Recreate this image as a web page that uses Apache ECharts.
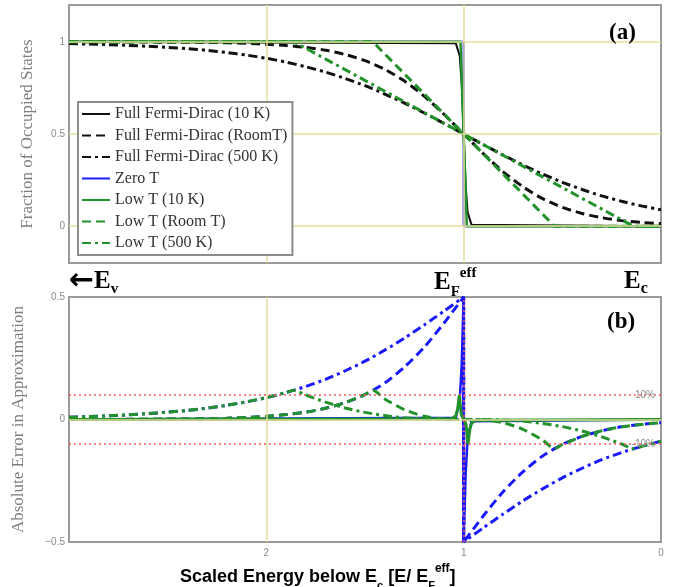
<!DOCTYPE html>
<html><head><meta charset="utf-8">
<script src="https://cdn.jsdelivr.net/npm/echarts@6/dist/echarts.min.js"></script>
<style>html,body{margin:0;padding:0;background:#fff}#c{width:689px;height:587px}</style>
</head><body><div id="c"></div>
<script>
// ---- shared energy grid (scaled energy below Ec) ----
const energy = [3.0,2.9,2.8,2.7,2.6,2.5,2.4,2.3,2.2,2.1,2.0,1.9,1.8,1.7,1.6,1.5,1.4,1.3,1.2,1.1,1.0,0.9,0.8,0.7,0.6,0.5,0.4,0.3,0.2,0.1,0.0];
const energySplit = [3.0,2.9,2.8,2.7,2.6,2.5,2.4,2.3,2.2,2.1,2.0,1.9,1.8,1.7,1.6,1.5,1.4,1.3,1.2,1.1,1.0,1.0,0.9,0.8,0.7,0.6,0.5,0.4,0.3,0.2,0.1,0.0];

// ---- (a) fraction of occupied states ----
const fd10K_x = [3.0,1.04,1.02,1.01,1.0,0.99,0.98,0.96,0.0];
const fd10K_y = [1,0.993,0.924,0.777,0.5,0.223,0.076,0.007,0];
const fdRoomT = [1.000,1.000,1.000,0.999,0.999,0.998,0.998,0.997,0.995,0.992,0.987,0.980,0.970,0.955,0.931,0.898,0.851,0.787,0.705,0.607,0.500,0.393,0.295,0.214,0.149,0.102,0.069,0.046,0.030,0.020,0.013];
const fd500K = [0.991,0.988,0.985,0.981,0.976,0.970,0.963,0.954,0.942,0.928,0.911,0.890,0.865,0.836,0.801,0.762,0.717,0.668,0.614,0.558,0.500,0.442,0.386,0.332,0.283,0.238,0.199,0.164,0.135,0.110,0.089];
const zeroT_x = [3,1,1,0];
const zeroT_y = [1,1,0,0];
const lowT10K_x = [3,1.016,0.984,0];
const lowT10K_y = [1,1,0,0];
const lowTRoomT_x = [3,1.46,0.54,0];
const lowTRoomT_y = [1,1,0,0];
const lowT500K_x = [3,1.86,0.14,0];
const lowT500K_y = [1,1,0,0];

// ---- (b) absolute error in approximation ----
const errZeroT10K_x = [3,1.04,1.02,1.01,1.0,1.0,0.99,0.98,0.96,0];
const errZeroT10K_y = [0,0.007,0.076,0.223,0.5,-0.5,-0.223,-0.076,-0.007,0];
const errZeroTRoomT = [0,0,0,0.001,0.001,0.002,0.002,0.003,0.005,0.008,0.013,0.020,0.030,0.046,0.069,0.102,0.149,0.214,0.295,0.393,0.5,-0.5,-0.393,-0.295,-0.214,-0.149,-0.102,-0.069,-0.046,-0.030,-0.020,-0.013];
const errZeroT500K = [0.009,0.012,0.015,0.019,0.024,0.030,0.037,0.046,0.058,0.072,0.089,0.110,0.135,0.164,0.199,0.238,0.283,0.332,0.386,0.442,0.5,-0.5,-0.442,-0.386,-0.332,-0.283,-0.238,-0.199,-0.164,-0.135,-0.110,-0.089];
const errLowT10K_x = [3,1.06,1.04,1.03,1.022,1.012,1.0,0.988,0.978,0.97,0.96,0.94,0];
const errLowT10K_y = [0,0.003,0.015,0.045,0.1,0.02,0,-0.02,-0.1,-0.045,-0.015,-0.003,0];
const errLowTRoomT_x = [3.0,2.8,2.6,2.4,2.2,2.0,1.9,1.8,1.7,1.6,1.5,1.46,1.4,1.3,1.2,1.1,1.0,0.9,0.8,0.7,0.6,0.54,0.5,0.4,0.3,0.2,0.1,0.0];
const errLowTRoomT_y = [0,0,0.001,0.002,0.005,0.013,0.020,0.030,0.046,0.069,0.102,0.119,0.084,0.040,0.013,0.002,0,-0.002,-0.013,-0.040,-0.084,-0.119,-0.102,-0.069,-0.046,-0.030,-0.020,-0.013];
const errLowT500K_x = [3.0,2.8,2.6,2.4,2.2,2.0,1.9,1.86,1.8,1.7,1.6,1.5,1.4,1.3,1.2,1.1,1.0,0.9,0.8,0.7,0.6,0.5,0.4,0.3,0.2,0.14,0.1,0.0];
const errLowT500K_y = [0.009,0.015,0.024,0.037,0.058,0.089,0.110,0.119,0.100,0.071,0.047,0.029,0.016,0.007,0.002,0.000,0,0.000,-0.002,-0.007,-0.016,-0.029,-0.047,-0.071,-0.100,-0.119,-0.110,-0.089];

const legendNames = ['Full Fermi-Dirac (10 K)','Full Fermi-Dirac (RoomT)','Full Fermi-Dirac (500 K)','Zero T','Low T (10 K)','Low T (Room T)','Low T (500 K)'];
const xTickLabels = ['0','1','2'];
const topYTicks = [0,0.5,1];

const pairs = (xs, ys) => xs.map((x,i) => [x, ys[i]]);
const BLACK = '#111111', BLUE = '#1a1aff', GREEN = '#22922a';
const YEL = '#e6dc9c', RED = '#ff5a5a', GRAY = '#8a8a8a';
const DASH = [9,5], DASHDOT = [9,4,3,4];

function line(name, gi, data, color, width, type, z, smooth) {
  return { name, type:'line', xAxisIndex:gi, yAxisIndex:gi, data, symbol:'none',
    smooth: smooth ? 0.25 : false, z, silent:true, animation:false,
    lineStyle:{ color, width, type, cap:'butt' }, itemStyle:{ color } };
}

const series = [
  { type:'line', xAxisIndex:0, yAxisIndex:0, data:[], z:1, silent:true, animation:false,
    markLine:{ silent:true, symbol:'none', animation:false, label:{show:false},
      lineStyle:{ color:YEL, width:1.5, type:'solid' },
      data:[{yAxis:0},{yAxis:0.5},{yAxis:1},{xAxis:1},{xAxis:2}] } },
  { type:'line', xAxisIndex:1, yAxisIndex:1, data:[], z:1, silent:true, animation:false,
    markLine:{ silent:true, symbol:'none', animation:false, label:{show:false},
      lineStyle:{ color:YEL, width:1.5, type:'solid' },
      data:[{yAxis:0},{xAxis:2},
        {xAxis:1, lineStyle:{color:RED, width:1.5, type:[2,3]}},
        {yAxis:0.1, lineStyle:{color:RED, width:1.5, type:[2,3]},
          label:{show:true, position:'insideStart', formatter:'10%', color:GRAY, fontSize:10, distance:6}},
        {yAxis:-0.1, lineStyle:{color:RED, width:1.5, type:[2,3]},
          label:{show:true, position:'insideStart', formatter:'-10%', color:GRAY, fontSize:10, distance:6}}] } },
  // (a)
  line(legendNames[0], 0, pairs(fd10K_x, fd10K_y), BLACK, 2, 'solid', 2, false),
  line(legendNames[1], 0, pairs(energy, fdRoomT), BLACK, 3, DASH, 2, true),
  line(legendNames[2], 0, pairs(energy, fd500K), BLACK, 3, DASHDOT, 2, true),
  line(legendNames[3], 0, pairs(zeroT_x, zeroT_y), BLUE, 2, 'solid', 3, false),
  line(legendNames[4], 0, pairs(lowT10K_x, lowT10K_y), GREEN, 2.5, 'solid', 4, false),
  line(legendNames[5], 0, pairs(lowTRoomT_x, lowTRoomT_y), GREEN, 3, DASH, 4, false),
  line(legendNames[6], 0, pairs(lowT500K_x, lowT500K_y), GREEN, 3, DASHDOT, 4, false),
  // (b)
  line('err Zero T 10K', 1, pairs(errZeroT10K_x, errZeroT10K_y), BLUE, 2.5, 'solid', 3, false),
  line('err Zero T RoomT', 1, pairs(energySplit, errZeroTRoomT), BLUE, 3, DASH, 3, true),
  line('err Zero T 500K', 1, pairs(energySplit, errZeroT500K), BLUE, 3, DASHDOT, 3, true),
  line('err Low T 10K', 1, pairs(errLowT10K_x, errLowT10K_y), GREEN, 3, 'solid', 4, false),
  line('err Low T RoomT', 1, pairs(errLowTRoomT_x, errLowTRoomT_y), GREEN, 3, DASH, 4, true),
  line('err Low T 500K', 1, pairs(errLowT500K_x, errLowT500K_y), GREEN, 3, DASHDOT, 4, true)
];

const near = (a,b) => Math.abs(a-b) < 1e-6;
const chart = echarts.init(document.getElementById('c'), null, {renderer:'canvas'});
chart.setOption({
  animation:false,
  backgroundColor:'#ffffff',
  grid:[
    {left:69, top:5, width:592, height:258, show:true, borderColor:'#9a9a9a', borderWidth:2, backgroundColor:'transparent'},
    {left:69, top:297, width:592, height:245, show:true, borderColor:'#9a9a9a', borderWidth:2, backgroundColor:'transparent'}
  ],
  xAxis:[
    {gridIndex:0, type:'value', min:0, max:3, interval:1, inverse:true,
      axisLine:{show:false}, axisTick:{show:false}, splitLine:{show:false}, axisLabel:{show:false}},
    {gridIndex:1, type:'value', min:0, max:3, interval:1, inverse:true,
      axisLine:{show:false}, axisTick:{show:false}, splitLine:{show:false},
      axisLabel:{color:GRAY, fontSize:10, margin:6,
        formatter: v => { const i = Math.round(v); return (near(v,i) && i < xTickLabels.length) ? xTickLabels[i] : ''; }}}
  ],
  yAxis:[
    {gridIndex:0, type:'value', min:-0.2, max:1.2, interval:0.1,
      axisLine:{show:false}, axisTick:{show:false}, splitLine:{show:false},
      axisLabel:{color:GRAY, fontSize:10, margin:4,
        formatter: v => { const t = topYTicks.find(k => near(k, v)); return t === undefined ? '' : String(t); }},
      name:'Fraction of Occupied States', nameLocation:'middle', nameGap:33,
      nameTextStyle:{fontFamily:'Liberation Serif', fontSize:17, color:'#7e7e7e'}},
    {gridIndex:1, type:'value', min:-0.5, max:0.5, interval:0.5,
      axisLine:{show:false}, axisTick:{show:false}, splitLine:{show:false},
      axisLabel:{color:GRAY, fontSize:10, margin:4, formatter: v => (v < 0 ? '\u2212' + Math.abs(v) : String(v))},
      name:'Absolute Error in Approximation', nameLocation:'middle', nameGap:42,
      nameTextStyle:{fontFamily:'Liberation Serif', fontSize:17, color:'#7e7e7e'}}
  ],
  legend:{ orient:'vertical', left:78, top:102, itemWidth:28, itemHeight:12, itemGap:5.5,
    padding:[4,5,4,3], backgroundColor:'#ffffff', borderColor:'#8c8c8c', borderWidth:2,
    selectedMode:false, z:10, itemStyle:{opacity:0},
    textStyle:{fontFamily:'Liberation Serif', fontSize:16, color:'#333333'}, data:legendNames },
  graphic:[
    {type:'text', left:69, top:266, z:20, style:{text:'\u2190', font:'bold 30px "DejaVu Sans"', fill:'#000'}},
    {type:'text', left:94, top:269, z:20, style:{
      text:'{m|E}{s|v}',
      rich:{ m:{fontFamily:'Liberation Serif', fontWeight:'bold', fontSize:25, lineHeight:30, verticalAlign:'middle', fill:'#000'},
             s:{fontFamily:'Liberation Serif', fontWeight:'bold', fontSize:15, lineHeight:22, verticalAlign:'bottom', fill:'#000'} } }},
    {type:'text', left:434, top:266, z:20, style:{
      text:'{m|E}{s|F}{p|eff}',
      rich:{ m:{fontFamily:'Liberation Serif', fontWeight:'bold', fontSize:25, lineHeight:34, verticalAlign:'middle', fill:'#000'},
             s:{fontFamily:'Liberation Serif', fontWeight:'bold', fontSize:15, lineHeight:24, verticalAlign:'bottom', fill:'#000'},
             p:{fontFamily:'Liberation Serif', fontWeight:'bold', fontSize:15, lineHeight:15, verticalAlign:'top', fill:'#000'} } }},
    {type:'text', left:624, top:269, z:20, style:{
      text:'{m|E}{s|c}',
      rich:{ m:{fontFamily:'Liberation Serif', fontWeight:'bold', fontSize:25, lineHeight:30, verticalAlign:'middle', fill:'#000'},
             s:{fontFamily:'Liberation Serif', fontWeight:'bold', fontSize:16, lineHeight:22, verticalAlign:'bottom', fill:'#000'} } }},
    {type:'text', left:609, top:22, z:20, style:{text:'(a)', font:'bold 23px "Liberation Serif"', fill:'#000'}},
    {type:'text', left:607, top:311, z:20, style:{text:'(b)', font:'bold 23px "Liberation Serif"', fill:'#000'}},
    {type:'text', left:180, top:563, z:20, style:{
      text:'{m|Scaled Energy below E}{s|c}{m| [E/ E}{s|F}{p|eff}{m|]}',
      rich:{ m:{fontFamily:'Liberation Sans', fontWeight:'bold', fontSize:18, lineHeight:28, verticalAlign:'middle', fill:'#000'},
             s:{fontFamily:'Liberation Sans', fontWeight:'bold', fontSize:11, lineHeight:20, verticalAlign:'bottom', fill:'#000'},
             p:{fontFamily:'Liberation Sans', fontWeight:'bold', fontSize:12, lineHeight:12, verticalAlign:'top', fill:'#000'} } }}
  ],
  series
});
</script></body></html>
